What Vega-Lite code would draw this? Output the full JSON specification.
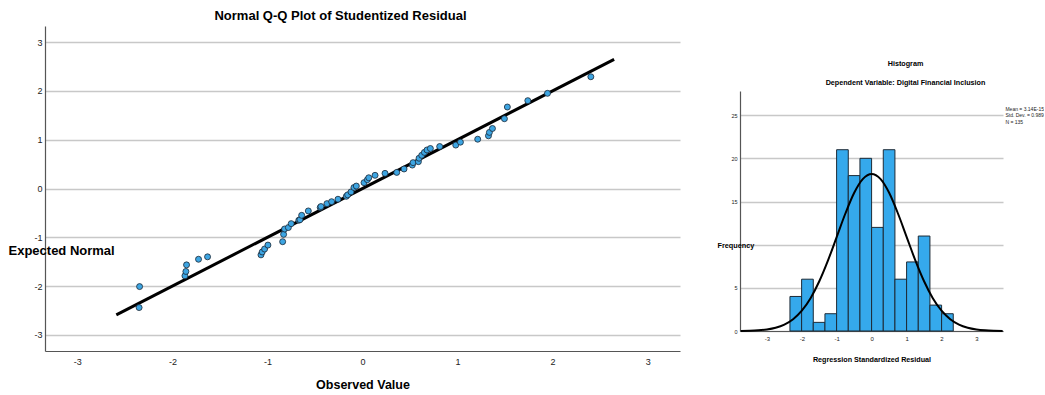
{
  "$schema": "https://vega.github.io/schema/vega-lite/v6.json",
  "background": "white",
  "padding": {"left": 8, "top": 10, "right": 0, "bottom": 0},
  "spacing": 37,
  "config": {
    "view": {"stroke": null},
    "font": "Liberation Sans",
    "axis": {"domainColor": "#555555", "domainWidth": 1.2, "gridColor": "#c8c8c8", "gridWidth": 1.3, "ticks": false, "labelColor": "#222222", "titleColor": "#000000"}
  },
  "hconcat": [
    {
      "width": 635,
      "height": 325,
      "title": {"text": "Normal Q-Q Plot of Studentized Residual", "fontSize": 13, "fontWeight": "bold", "font": "Liberation Sans", "color": "#000000", "frame": "group", "dx": -22, "offset": 3},
      "layer": [
        {
          "data": {"values": [{"x": -2.59, "y": -2.59}, {"x": 2.647, "y": 2.647}]},
          "mark": {"type": "line", "color": "#000000", "strokeWidth": 3},
          "encoding": {
            "x": {"field": "x", "type": "quantitative"},
            "y": {"field": "y", "type": "quantitative"}
          }
        },
        {
          "data": {"values": [
            {"observed": -2.35, "expected": -2.44},
            {"observed": -2.345, "expected": -2.01},
            {"observed": -1.868, "expected": -1.79},
            {"observed": -1.858, "expected": -1.7},
            {"observed": -1.851, "expected": -1.565},
            {"observed": -1.725, "expected": -1.45},
            {"observed": -1.63, "expected": -1.4},
            {"observed": -1.068, "expected": -1.36},
            {"observed": -1.055, "expected": -1.3},
            {"observed": -1.03, "expected": -1.24},
            {"observed": -0.995, "expected": -1.16},
            {"observed": -0.84, "expected": -1.09},
            {"observed": -0.83, "expected": -0.94},
            {"observed": -0.82, "expected": -0.83},
            {"observed": -0.78, "expected": -0.8},
            {"observed": -0.75, "expected": -0.72},
            {"observed": -0.67, "expected": -0.65},
            {"observed": -0.658, "expected": -0.64},
            {"observed": -0.64, "expected": -0.55},
            {"observed": -0.57, "expected": -0.46},
            {"observed": -0.445, "expected": -0.39},
            {"observed": -0.437, "expected": -0.37},
            {"observed": -0.374, "expected": -0.31},
            {"observed": -0.325, "expected": -0.27},
            {"observed": -0.258, "expected": -0.22},
            {"observed": -0.17, "expected": -0.16},
            {"observed": -0.156, "expected": -0.13},
            {"observed": -0.121, "expected": -0.07},
            {"observed": -0.09, "expected": 0.02},
            {"observed": -0.065, "expected": 0.05},
            {"observed": 0.016, "expected": 0.12},
            {"observed": 0.051, "expected": 0.18},
            {"observed": 0.066, "expected": 0.22},
            {"observed": 0.132, "expected": 0.27},
            {"observed": 0.237, "expected": 0.31},
            {"observed": 0.36, "expected": 0.33},
            {"observed": 0.437, "expected": 0.4},
            {"observed": 0.524, "expected": 0.48},
            {"observed": 0.532, "expected": 0.53},
            {"observed": 0.588, "expected": 0.55},
            {"observed": 0.595, "expected": 0.62},
            {"observed": 0.623, "expected": 0.68},
            {"observed": 0.651, "expected": 0.74},
            {"observed": 0.679, "expected": 0.79},
            {"observed": 0.714, "expected": 0.82},
            {"observed": 0.812, "expected": 0.86},
            {"observed": 0.981, "expected": 0.89},
            {"observed": 1.03, "expected": 0.95},
            {"observed": 1.212, "expected": 1.01},
            {"observed": 1.325, "expected": 1.08},
            {"observed": 1.335, "expected": 1.15},
            {"observed": 1.367, "expected": 1.23},
            {"observed": 1.493, "expected": 1.43},
            {"observed": 1.524, "expected": 1.67},
            {"observed": 1.739, "expected": 1.8},
            {"observed": 1.946, "expected": 1.95},
            {"observed": 2.402, "expected": 2.29}
          ]},
          "mark": {"type": "point", "filled": true, "fill": "#3DA5E2", "stroke": "#1b2735", "strokeWidth": 0.8, "size": 36, "opacity": 1},
          "encoding": {
            "x": {
              "field": "observed", "type": "quantitative",
              "scale": {"domain": [-3.34, 3.34], "nice": false, "zero": false},
              "axis": {"title": "Observed Value", "titleFontSize": 12.5, "titleFontWeight": "bold", "titlePadding": 12, "values": [-3, -2, -1, 0, 1, 2, 3], "labelExpr": "'' + datum.value", "labelFontSize": 9, "labelPadding": 6, "grid": false}
            },
            "y": {
              "field": "expected", "type": "quantitative",
              "scale": {"domain": [-3.33, 3.33], "nice": false, "zero": false},
              "axis": {"title": "Expected Normal", "titleAngle": 0, "titleAlign": "left", "titleBaseline": "middle", "titleX": -37, "titleY": 224, "titleFontSize": 13, "titleFontWeight": "bold", "values": [-3, -2, -1, 0, 1, 2, 3], "labelExpr": "'' + datum.value", "labelFontSize": 9, "labelPadding": 3, "grid": true}
            }
          }
        }
      ]
    },
    {
      "spacing": 10,
      "vconcat": [
        {
          "width": 263,
          "height": 23,
          "data": {"values": []},
          "mark": {"type": "point", "opacity": 0},
          "encoding": {}
        },
        {
          "width": 263,
          "height": 240,
          "title": {"text": "Histogram", "subtitle": "Dependent Variable: Digital Financial Inclusion", "font": "Liberation Sans", "subtitleFont": "Liberation Sans", "fontSize": 7.2, "fontWeight": "bold", "subtitleFontSize": 7.2, "subtitleFontWeight": "bold", "subtitleColor": "#000000", "color": "#000000", "subtitlePadding": 12, "frame": "group", "dx": 34, "offset": 5},
          "layer": [
            {
              "data": {"values": [
                {"bin_start": -2.34, "bin_end": -2.006, "count": 4},
                {"bin_start": -2.006, "bin_end": -1.672, "count": 6},
                {"bin_start": -1.672, "bin_end": -1.338, "count": 1},
                {"bin_start": -1.338, "bin_end": -1.004, "count": 2},
                {"bin_start": -1.004, "bin_end": -0.67, "count": 21},
                {"bin_start": -0.67, "bin_end": -0.336, "count": 18},
                {"bin_start": -0.336, "bin_end": -0.002, "count": 20},
                {"bin_start": -0.002, "bin_end": 0.332, "count": 12},
                {"bin_start": 0.332, "bin_end": 0.666, "count": 21},
                {"bin_start": 0.666, "bin_end": 1.0, "count": 6},
                {"bin_start": 1.0, "bin_end": 1.334, "count": 8},
                {"bin_start": 1.334, "bin_end": 1.668, "count": 11},
                {"bin_start": 1.668, "bin_end": 2.002, "count": 3},
                {"bin_start": 2.002, "bin_end": 2.336, "count": 2}
              ]},
              "mark": {"type": "rect", "fill": "#35A9EC", "stroke": "#1d2a36", "strokeWidth": 1},
              "encoding": {
                "x": {
                  "field": "bin_start", "type": "quantitative",
                  "scale": {"domain": [-3.77, 3.76], "nice": false, "zero": false},
                  "axis": {"title": "Regression Standardized Residual", "titleFont": "Liberation Sans", "titleFontSize": 7.2, "titleFontWeight": "bold", "titlePadding": 14, "values": [-3, -2, -1, 0, 1, 2, 3], "labelExpr": "'' + datum.value", "labelFontSize": 6, "labelPadding": 4, "grid": false}
                },
                "x2": {"field": "bin_end"},
                "y": {
                  "field": "count", "type": "quantitative",
                  "scale": {"domain": [0, 27.8], "nice": false},
                  "axis": {"title": "Frequency", "titleFont": "Liberation Sans", "titleAngle": 0, "titleAlign": "left", "titleBaseline": "middle", "titleX": -23, "titleY": 154, "titleFontSize": 7.3, "titleFontWeight": "bold", "values": [0, 5, 10, 15, 20, 25], "labelExpr": "datum.value == 10 ? '' : datum.label", "labelFontSize": 5.5, "labelPadding": 3, "grid": true}
                },
                "y2": {"datum": 0}
              }
            },
            {
              "data": {"values": [
                {"x": -3.75, "density": 0.014},
                {"x": -3.5, "density": 0.035},
                {"x": -3.25, "density": 0.082},
                {"x": -3.0, "density": 0.183},
                {"x": -2.75, "density": 0.381},
                {"x": -2.5, "density": 0.745},
                {"x": -2.25, "density": 1.368},
                {"x": -2.0, "density": 2.354},
                {"x": -1.75, "density": 3.8},
                {"x": -1.5, "density": 5.76},
                {"x": -1.25, "density": 8.18},
                {"x": -1.0, "density": 10.91},
                {"x": -0.75, "density": 13.64},
                {"x": -0.5, "density": 16.01},
                {"x": -0.25, "density": 17.62},
                {"x": 0.0, "density": 18.19},
                {"x": 0.25, "density": 17.62},
                {"x": 0.5, "density": 16.01},
                {"x": 0.75, "density": 13.64},
                {"x": 1.0, "density": 10.91},
                {"x": 1.25, "density": 8.18},
                {"x": 1.5, "density": 5.76},
                {"x": 1.75, "density": 3.8},
                {"x": 2.0, "density": 2.354},
                {"x": 2.25, "density": 1.368},
                {"x": 2.5, "density": 0.745},
                {"x": 2.75, "density": 0.381},
                {"x": 3.0, "density": 0.183},
                {"x": 3.25, "density": 0.082},
                {"x": 3.5, "density": 0.035},
                {"x": 3.75, "density": 0.014}
              ]},
              "mark": {"type": "line", "color": "#000000", "strokeWidth": 2, "interpolate": "monotone"},
              "encoding": {
                "x": {"field": "x", "type": "quantitative"},
                "y": {"field": "density", "type": "quantitative"}
              }
            },
            {
              "data": {"values": [{"summary": "residual statistics"}]},
              "mark": {"type": "text", "text": ["Mean = 3.14E-15", "Std. Dev. = 0.989", "N = 135"], "align": "left", "baseline": "middle", "fontSize": 5, "lineHeight": 6.5, "font": "Liberation Sans", "color": "#222222"},
              "encoding": {
                "x": {"datum": 3.83},
                "y": {"datum": 25.75}
              }
            }
          ]
        }
      ]
    }
  ]
}
